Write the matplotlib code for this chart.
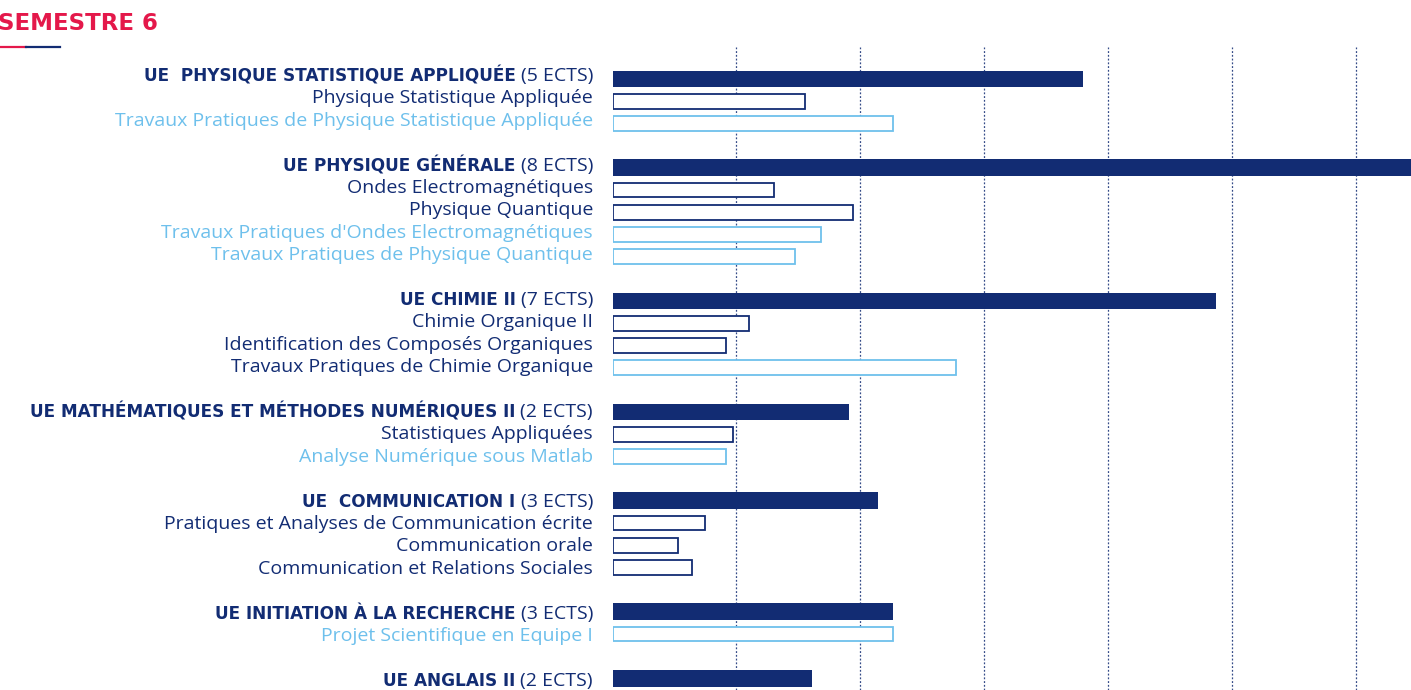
import numpy as np
from matplotlib import pyplot as plt
from matplotlib.lines import Line2D

NAVY = "#122c73"
LIGHT = "#6ec0ec"
RED = "#e4184a"

# UE data
ue_names = ["UE  PHYSIQUE STATISTIQUE APPLIQUÉE", "UE PHYSIQUE GÉNÉRALE", "UE CHIMIE II",
            "UE MATHÉMATIQUES ET MÉTHODES NUMÉRIQUES II", "UE  COMMUNICATION I",
            "UE INITIATION À LA RECHERCHE", "UE ANGLAIS II"]
ue_ects = [5, 8, 7, 2, 3, 3, 2]
ue_hours = [38.0, 66.0, 48.7, 19.1, 21.4, 22.6, 16.1]

# courses in each UE
course_names = [
    ["Physique Statistique Appliquée", "Travaux Pratiques de Physique Statistique Appliquée"],
    ["Ondes Electromagnétiques", "Physique Quantique",
     "Travaux Pratiques d'Ondes Electromagnétiques", "Travaux Pratiques de Physique Quantique"],
    ["Chimie Organique II", "Identification des Composés Organiques",
     "Travaux Pratiques de Chimie Organique"],
    ["Statistiques Appliquées", "Analyse Numérique sous Matlab"],
    ["Pratiques et Analyses de Communication écrite", "Communication orale",
     "Communication et Relations Sociales"],
    ["Projet Scientifique en Equipe I"],
    [],
]
course_hours = [
    [15.5, 22.6],
    [13.0, 19.4, 16.8, 14.7],
    [11.0, 9.2, 27.7],
    [9.7, 9.2],
    [7.5, 5.3, 6.4],
    [22.6],
    [],
]
# bar kind: C = cours, TP = practical work
course_kind = [
    ["C", "TP"],
    ["C", "C", "TP", "TP"],
    ["C", "C", "TP"],
    ["C", "TP"],
    ["C", "C", "C"],
    ["TP"],
    [],
]
# label colour kind
label_kind = [
    ["C", "TP"],
    ["C", "C", "TP", "TP"],
    ["C", "C", "C"],
    ["C", "TP"],
    ["C", "C", "C"],
    ["TP"],
    [],
]

W, H = 1411, 690
fig = plt.figure(figsize=(W / 100, H / 100), dpi=100)
x0 = 612.5
top = 47
ax = fig.add_axes([x0 / W, 0, 1 - x0 / W, 1 - top / H])
scale = 12.39
ax.set_xlim(0, (W - x0) / scale)

# bar rows and label rows are spaced slightly differently (pixels)
row, first = 22.2, 79.0
trow, tfirst = 22.4, 76.0
ax.set_ylim((H - first) / row, -(first - top) / row)
ax.set_xticks(np.arange(10, 70, 10))
ax.set_yticks([])
ax.tick_params(length=0, labelbottom=False)
for s in ax.spines.values():
    s.set_visible(False)
ax.grid(axis="x", color=NAVY, linestyle=(0, (1.5, 1.5)), linewidth=0.9, alpha=0.85)
ax.set_axisbelow(True)

LABEL_X = -(x0 - 593) / scale
FS = 14
r = fig.canvas.get_renderer()
inv = ax.transData.inverted()


def label_y(slot):
    return (tfirst + trow * slot - first) / row


y = 0
for i in range(len(ue_names)):
    ax.barh(y, ue_hours[i], height=0.75, color=NAVY, zorder=3)
    t2 = ax.text(LABEL_X, label_y(y), "(%d ECTS)" % ue_ects[i], ha="right", va="center",
                 fontsize=FS, color=NAVY, family="Open Sans", clip_on=False)
    bb = t2.get_window_extent(r)
    xl = inv.transform((bb.x0 - 5, 0))[0]
    ax.text(xl, label_y(y), ue_names[i], ha="right", va="center", fontsize=12.2,
            color=NAVY, family="DejaVu Sans", weight="bold", clip_on=False)
    y += 1
    for name, h, k, lk in zip(course_names[i], course_hours[i], course_kind[i], label_kind[i]):
        ec = NAVY if k == "C" else LIGHT
        ax.barh(y, h, height=0.66, facecolor="white", edgecolor=ec, linewidth=1.3, zorder=3)
        ax.text(LABEL_X, label_y(y), name, ha="right", va="center", fontsize=FS,
                color=NAVY if lk == "C" else LIGHT, family="Open Sans", clip_on=False)
        y += 1
    y += 1

fig.text(-2 / W, 1 - 24 / H, "SEMESTRE 6", ha="left", va="center", fontsize=16.5,
         color=RED, family="DejaVu Sans", weight="bold")
fig.add_artist(Line2D([0, 26 / W], [1 - 47 / H] * 2, color=RED, linewidth=1.6))
fig.add_artist(Line2D([26 / W, 60 / W], [1 - 47 / H] * 2, color=NAVY, linewidth=1.6))

fig.savefig("out.png", dpi=100)
